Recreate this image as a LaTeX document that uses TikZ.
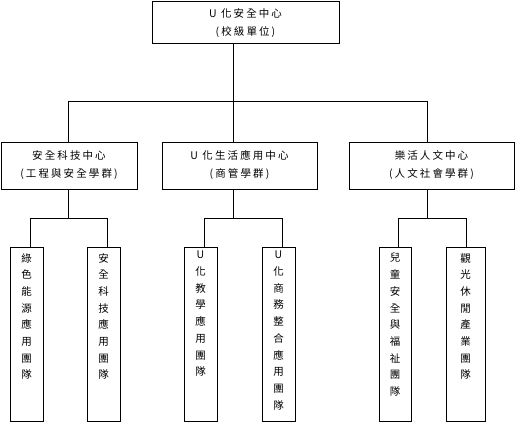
\documentclass[tikz,border=0pt]{standalone}
\usepackage{fontspec}
\newfontfamily\cjk[LetterSpace=20]{Noto Sans CJK TC}
\newfontfamily\cjkv{Noto Sans CJK TC}
\begin{document}
\begin{tikzpicture}[x=1pt,y=-1pt,
  box/.style={draw=black, line width=0.8pt, rectangle, inner sep=0pt, fill=white},
  htext/.style={font=\cjk\fontsize{10.5}{17.5}\selectfont, align=center, inner sep=0pt},
  vtext/.style={font=\cjkv\fontsize{10.5}{16.7}\selectfont, align=center, inner sep=0pt, anchor=north},
  conn/.style={draw=black, line width=0.8pt}]
\useasboundingbox (0,0) rectangle (515,422);
% top box
\node[box, minimum width=187pt, minimum height=42pt] (top) at (245.5,22) {};
\node[htext] (toptxt) at (245.5,23) {U 化安全中心\\(校級單位)};
% middle boxes
\node[box, minimum width=136pt, minimum height=47pt] (m1) at (69,165.5) {};
\node[box, minimum width=155pt, minimum height=47pt] (m2) at (239.5,165.5) {};
\node[box, minimum width=165pt, minimum height=47pt] (m3) at (431.5,165.5) {};
\node[htext] (m1t) at (69,165) {安全科技中心\\(工程與安全學群)};
\node[htext] (m2t) at (239.5,165) {U 化生活應用中心\\(商管學群)};
\node[htext] (m3t) at (431.5,165) {樂活人文中心\\(人文社會學群)};
% bottom boxes
\node[box, minimum width=33pt, minimum height=174pt] (b1) at (26.5,334) {};
\node[box, minimum width=33pt, minimum height=174pt] (b2) at (103.5,334) {};
\node[box, minimum width=33pt, minimum height=174pt] (b3) at (200.5,334) {};
\node[box, minimum width=33pt, minimum height=174pt] (b4) at (278.5,334) {};
\node[box, minimum width=32pt, minimum height=174pt] (b5) at (395,334) {};
\node[box, minimum width=39pt, minimum height=174pt] (b6) at (465.5,334) {};
\node[vtext] (b1t) at (26.5,253) {綠\\色\\能\\源\\應\\用\\團\\隊};
\node[vtext] (b2t) at (103.5,253) {安\\全\\科\\技\\應\\用\\團\\隊};
\node[vtext] (b3t) at (200.5,251) {U\\化\\教\\學\\應\\用\\團\\隊};
\node[vtext] (b4t) at (278.5,251) {U\\化\\商\\務\\整\\合\\應\\用\\團\\隊};
\node[vtext] (b5t) at (395,253) {兒\\童\\安\\全\\與\\福\\祉\\團\\隊};
\node[vtext] (b6t) at (465.5,253) {觀\\光\\休\\閒\\產\\業\\團\\隊};
% bus coordinates
\coordinate (h0) at (233,101);
\coordinate (hL) at (68,101);
\coordinate (hR) at (427,101);
\coordinate (s1) at (68,218);
\coordinate (s1L) at (30,218);
\coordinate (s1R) at (107,218);
\coordinate (s2) at (233,218);
\coordinate (s2L) at (204,218);
\coordinate (s2R) at (282,218);
\coordinate (s3) at (427,218);
\coordinate (s3L) at (398,218);
\coordinate (s3R) at (466,218);
% connectors
\draw[conn] (top.south -| h0) -- (h0);
\draw[conn] (hL) -- (hR);
\draw[conn] (hL) -- (hL |- m1.north);
\draw[conn] (h0) -- (h0 |- m2.north);
\draw[conn] (hR) -- (hR |- m3.north);
\draw[conn] (m1.south -| s1) -- (s1);
\draw[conn] (m2.south -| s2) -- (s2);
\draw[conn] (m3.south -| s3) -- (s3);
\draw[conn] (s1L) -- (s1R);
\draw[conn] (s2L) -- (s2R);
\draw[conn] (s3L) -- (s3R);
\draw[conn] (s1L) -- (s1L |- b1.north);
\draw[conn] (s1R) -- (s1R |- b2.north);
\draw[conn] (s2L) -- (s2L |- b3.north);
\draw[conn] (s2R) -- (s2R |- b4.north);
\draw[conn] (s3L) -- (s3L |- b5.north);
\draw[conn] (s3R) -- (s3R |- b6.north);
\end{tikzpicture}
\end{document}
